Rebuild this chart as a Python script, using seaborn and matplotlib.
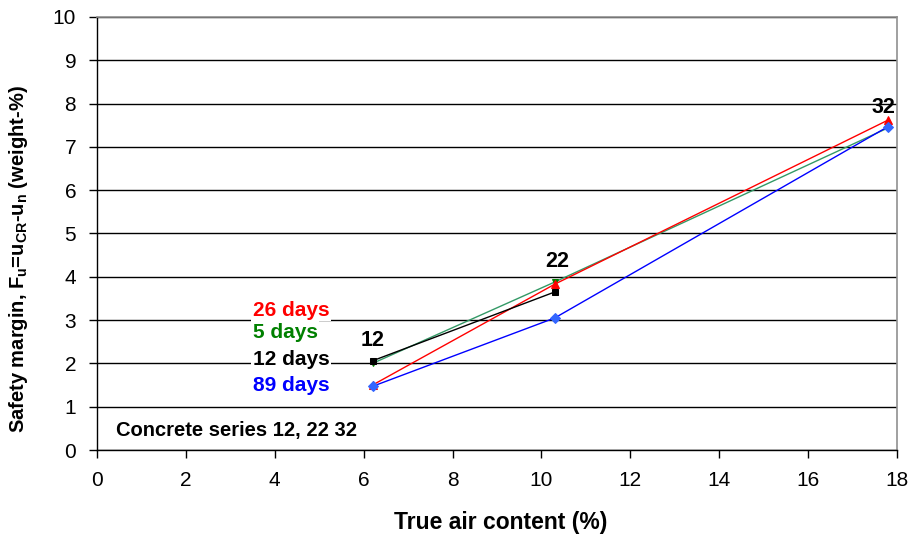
import numpy as np
import pandas as pd
import matplotlib
matplotlib.use("Agg")
import matplotlib.pyplot as plt
import seaborn as sns

# ---- data ----
air_content = [6.2, 10.3, 17.8]
series_names = ["12", "22", "32"]
red_26_days = [1.50, 3.83, 7.62]
green_5_days = [2.00, 3.88, 7.44]
black_12_days = [2.06, 3.65, np.nan]
blue_89_days = [1.47, 3.05, 7.47]
x_ticks = [0, 2, 4, 6, 8, 10, 12, 14, 16, 18]
y_ticks = [0, 1, 2, 3, 4, 5, 6, 7, 8, 9, 10]

sns.set_style("white")
plt.rcParams["font.family"] = ["Liberation Sans", "DejaVu Sans"]
plt.rcParams["text.color"] = "black"
plt.rcParams["xtick.color"] = "black"
plt.rcParams["ytick.color"] = "black"
plt.rcParams["mathtext.fontset"] = "custom"
plt.rcParams["mathtext.rm"] = "Liberation Sans:bold"
plt.rcParams["mathtext.it"] = "Liberation Sans:bold"
plt.rcParams["mathtext.bf"] = "Liberation Sans:bold"

fig = plt.figure(figsize=(9.17, 5.41), dpi=100)
ax = fig.add_axes([97/917, 1-450/541, (897-97)/917, (450-17)/541])

series = [
    (green_5_days, "#339966", "#008000", "v", 5),
    (red_26_days, "#FF0000", "#FF0000", "^", 6),
    (black_12_days, "#000000", "#000000", "s", 5),
    (blue_89_days, "#0000FF", "#3366FF", "D", 5.5),
]
for vals, lc, mc, mk, ms in series:
    df = pd.DataFrame({"x": air_content, "y": vals}).dropna()
    sns.lineplot(data=df, x="x", y="y", ax=ax, color=lc, lw=1.0, sort=False,
                 marker=mk, markersize=ms, markerfacecolor=mc, markeredgecolor=mc,
                 zorder=3)

ax.set_xlim(0, 18)
ax.set_ylim(0, 10)
ax.set_xticks(x_ticks)
ax.set_yticks(y_ticks)
ax.tick_params(axis="both", labelsize=15, direction="out", length=6, width=1,
               color="black", left=True, bottom=True)
ax.tick_params(axis="y", pad=9)
ax.tick_params(axis="x", pad=9)
ax.yaxis.grid(True, color="black", lw=1)
ax.xaxis.grid(False)
ax.set_axisbelow(True)
for s in ["left", "bottom"]:
    ax.spines[s].set_color("black")
    ax.spines[s].set_linewidth(1)
for s in ["top", "right"]:
    ax.spines[s].set_color("#909090")
    ax.spines[s].set_linewidth(1.2)

ax.set_xlabel("")
ax.set_ylabel("")
fig.text(501/917, 1-522/541, "True air content (%)", fontsize=16.5, fontweight="bold",
         ha="center", va="center")
fig.text(19/917, 1-259/541,
         r"Safety margin, F$_\mathregular{u}$=u$_\mathregular{CR}$-u$_\mathregular{n}$ (weight-%)",
         fontsize=14.5, fontweight="bold", ha="center", va="center", rotation=90)

# point labels (series names)
label_offsets = [(0.0, 0.53), (0.05, 0.48), (-0.11, 0.3)]
tops = [max(a, b, c) for a, b, c in zip(red_26_days, green_5_days, blue_89_days)]
for xv, yv, name, (dx, dy) in zip(air_content, tops, series_names, label_offsets):
    ax.text(xv + dx, yv + dy, name, ha="center", va="center", fontsize=15.5,
            fontweight="bold", color="black", zorder=5)

# legend-like text labels
bbox = dict(facecolor="white", edgecolor="none", pad=1)
ax.text(3.5, 3.23, "26 days", color="#FF0000", fontsize=15, fontweight="bold",
        va="center", ha="left", bbox=bbox, zorder=4)
ax.text(3.5, 2.72, "5 days", color="#008000", fontsize=15, fontweight="bold",
        va="center", ha="left", bbox=bbox, zorder=4)
ax.text(3.5, 2.08, "12 days", color="#000000", fontsize=15, fontweight="bold",
        va="center", ha="left", bbox=bbox, zorder=4)
ax.text(3.5, 1.50, "89 days", color="#0000FF", fontsize=15, fontweight="bold",
        va="center", ha="left", bbox=bbox, zorder=4)
ax.text(0.42, 0.46, "Concrete series 12, 22 32", color="black", fontsize=14.5,
        fontweight="bold", va="center", ha="left", zorder=4)

fig.savefig("out.png", dpi=100)
